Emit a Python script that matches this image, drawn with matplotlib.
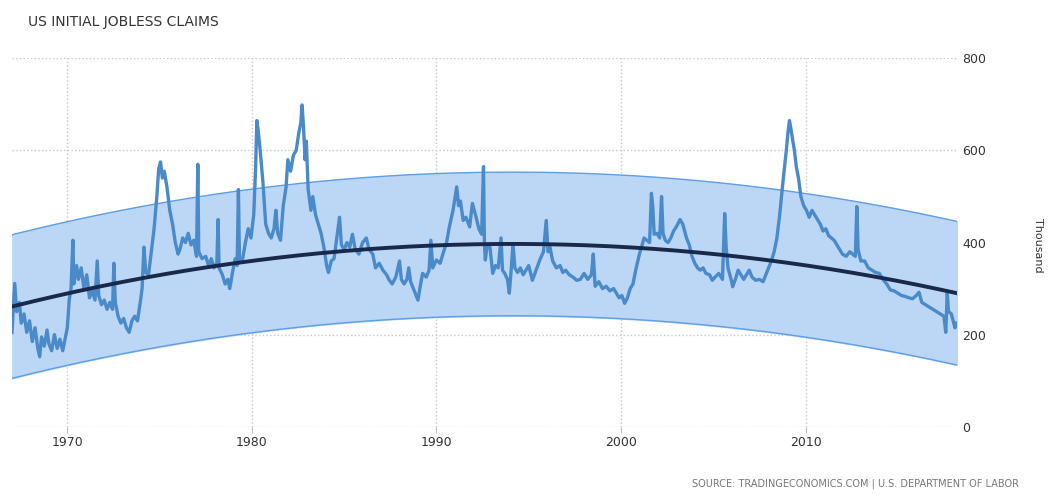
import numpy as np
import matplotlib
matplotlib.use("Agg")
import matplotlib.pyplot as plt

# weekly initial claims (thousand)
years = [
    1967.00, 1967.08, 1967.15, 1967.25, 1967.40, 1967.50, 1967.65, 1967.80, 1967.95,
    1968.10, 1968.25, 1968.40, 1968.50, 1968.60, 1968.75, 1968.90, 1969.00, 1969.15,
    1969.30, 1969.45, 1969.60, 1969.75, 1969.90, 1970.00, 1970.10, 1970.20, 1970.30,
    1970.35, 1970.50, 1970.60, 1970.75, 1970.90, 1971.05, 1971.20, 1971.35, 1971.50,
    1971.62, 1971.70, 1971.85, 1972.00, 1972.15, 1972.30, 1972.45, 1972.52, 1972.60,
    1972.75, 1972.90, 1973.05, 1973.20, 1973.35, 1973.50, 1973.65, 1973.80, 1973.95,
    1974.05, 1974.15, 1974.25, 1974.40, 1974.55, 1974.70, 1974.85, 1974.95, 1975.05,
    1975.15, 1975.25, 1975.40, 1975.55, 1975.70, 1975.85, 1976.00, 1976.10, 1976.25,
    1976.40, 1976.55, 1976.70, 1976.85, 1977.00, 1977.07, 1977.12, 1977.30, 1977.50,
    1977.65, 1977.80, 1977.95, 1978.10, 1978.17, 1978.22, 1978.40, 1978.55, 1978.70,
    1978.80, 1978.95, 1979.10, 1979.20, 1979.27, 1979.33, 1979.50, 1979.65, 1979.80,
    1979.95, 1980.10, 1980.20, 1980.27, 1980.35, 1980.45, 1980.60, 1980.75, 1980.90,
    1981.05, 1981.20, 1981.30, 1981.40, 1981.55, 1981.70, 1981.85, 1981.95, 1982.10,
    1982.25, 1982.40, 1982.55, 1982.65, 1982.72, 1982.80, 1982.88, 1982.95, 1983.05,
    1983.20, 1983.30, 1983.45, 1983.60, 1983.75, 1983.90, 1984.05, 1984.15, 1984.30,
    1984.45, 1984.60, 1984.75, 1984.85, 1985.00, 1985.15, 1985.30, 1985.45, 1985.60,
    1985.80, 1986.00, 1986.20, 1986.35, 1986.55, 1986.70, 1986.90, 1987.10, 1987.30,
    1987.45, 1987.60, 1987.80, 1988.00, 1988.10, 1988.25, 1988.40, 1988.50, 1988.60,
    1988.80, 1989.00, 1989.10, 1989.25, 1989.45, 1989.60, 1989.70, 1989.80, 1990.00,
    1990.20, 1990.35, 1990.55, 1990.70, 1990.90, 1991.10, 1991.20, 1991.30, 1991.45,
    1991.60, 1991.80, 1991.95, 1992.05, 1992.15, 1992.30, 1992.45, 1992.55, 1992.60,
    1992.65, 1992.75, 1992.90, 1993.05, 1993.20, 1993.35, 1993.50, 1993.58, 1993.70,
    1993.85, 1993.95, 1994.05, 1994.15, 1994.25, 1994.40, 1994.55, 1994.70, 1994.85,
    1995.00, 1995.20, 1995.40, 1995.60, 1995.80, 1995.95, 1996.05, 1996.15, 1996.30,
    1996.50, 1996.70, 1996.85, 1997.00, 1997.20, 1997.40, 1997.60, 1997.80, 1998.00,
    1998.20, 1998.40, 1998.50, 1998.60, 1998.80, 1999.00, 1999.20, 1999.40, 1999.60,
    1999.75, 1999.90, 2000.05, 2000.20, 2000.35, 2000.50, 2000.65, 2000.80, 2001.00,
    2001.15, 2001.25, 2001.40, 2001.55, 2001.65, 2001.72, 2001.80, 2001.95, 2002.10,
    2002.20, 2002.28, 2002.40, 2002.55, 2002.70, 2002.85, 2003.00, 2003.20, 2003.35,
    2003.55, 2003.70, 2003.85, 2004.00, 2004.15, 2004.30, 2004.45, 2004.60, 2004.80,
    2004.95, 2005.10, 2005.30, 2005.50, 2005.62, 2005.70, 2005.80, 2006.00, 2006.05,
    2006.20, 2006.35, 2006.50, 2006.65, 2006.80, 2006.95, 2007.10, 2007.30, 2007.50,
    2007.70, 2007.85, 2008.00, 2008.15, 2008.30, 2008.45, 2008.60, 2008.75, 2008.88,
    2008.98, 2009.05, 2009.13, 2009.22, 2009.30, 2009.40, 2009.50, 2009.62, 2009.75,
    2009.90, 2010.05, 2010.20, 2010.35, 2010.50, 2010.65, 2010.80, 2010.95, 2011.10,
    2011.25, 2011.40, 2011.55, 2011.70, 2011.85, 2012.00, 2012.20, 2012.40, 2012.55,
    2012.70, 2012.78, 2012.85, 2013.00, 2013.20, 2013.40, 2013.60, 2013.80, 2014.00,
    2014.20, 2014.40, 2014.60, 2014.80, 2015.00, 2015.20, 2015.40, 2015.60, 2015.80,
    2016.00, 2016.15, 2016.30, 2016.50, 2016.70, 2016.90, 2017.10, 2017.30, 2017.50,
    2017.60, 2017.68, 2017.75, 2017.90, 2018.00, 2018.10, 2018.16,
]
claims = [
    205, 260, 311, 250, 270, 225, 245, 205, 230,
    185, 215, 170, 152, 195, 175, 210, 180, 165,
    200, 170, 190, 165, 195, 215, 275, 300, 405,
    310, 350, 320, 345, 300, 330, 280, 295, 275,
    360, 285, 265, 275, 255, 270, 255, 355, 270,
    240, 225, 235, 215, 205, 230, 240, 230, 270,
    300, 390, 335, 330, 380, 430, 500, 560, 575,
    540, 555, 520, 470, 440, 400, 375, 385, 410,
    400, 420, 395, 405, 370, 570, 380, 365, 370,
    350, 365, 345, 355, 450, 345, 330, 310, 320,
    300, 335, 365, 350, 515, 360, 365, 400, 430,
    410, 460, 560, 665, 640, 600, 530, 440, 420,
    410, 430, 470, 420, 405, 480, 520, 580, 555,
    590, 600, 640, 660, 699, 650, 580, 620, 515,
    470, 500, 460, 440, 420, 390, 350, 335, 360,
    365, 410, 455, 395, 385, 400, 390, 418, 385,
    375, 400, 410, 385, 375, 345, 355, 340, 330,
    318, 310, 325, 360, 320, 310, 320, 345, 315,
    295, 275, 300, 333, 325, 340, 405, 345, 362,
    355, 375, 400, 434, 470, 521, 480, 490, 448,
    455, 434, 485, 470, 455, 430, 418, 565, 400,
    362, 395, 390, 333, 350, 345, 410, 340, 333,
    320, 290, 340, 398, 345, 335, 345, 330, 340,
    350, 318, 340, 362, 380, 448, 380, 390, 360,
    345, 350, 335, 340, 330, 325, 318, 320, 333,
    320, 330, 375, 305, 315, 300, 305, 295, 300,
    290, 280, 285, 268, 280, 300, 310, 340, 375,
    395, 410, 405, 400, 507, 480, 418, 420, 410,
    500, 420, 405, 400, 410, 425, 434, 450, 440,
    410, 395, 370, 355, 345, 340, 345, 333, 330,
    318, 325, 333, 320, 463, 390, 345, 315, 304,
    320, 340, 330, 320, 330, 340, 325, 318, 320,
    315, 330, 345, 360, 380, 410, 460, 521, 570,
    608, 640, 665, 645, 623, 600, 565, 540, 500,
    480, 470, 455, 470, 460, 450, 440, 425, 430,
    415, 410, 405, 395, 385, 375, 370, 380, 375,
    370, 478, 385, 360, 360, 345, 340, 335, 333,
    320, 310, 297, 295, 290, 285, 283, 280, 278,
    285, 292, 270, 265, 260, 255, 250, 245, 240,
    205, 290, 250, 245, 230, 215, 225,
]

# quadratic trend read at three places, and half width of the band
trend_years = [1967.0, 1994.0, 2018.2]
trend_vals = [261, 397, 290]
band_half = 156

x_ticks = [1970, 1980, 1990, 2000, 2010]
y_ticks = [0, 200, 400, 600, 800]

fig = plt.figure(figsize=(10.51, 4.95), dpi=100)
ax = fig.add_axes([0.0114, 0.138, 0.899, 0.744])

coef = np.polyfit(trend_years, trend_vals, 2)
tx = np.linspace(1967.0, 2018.2, 300)
ty = np.polyval(coef, tx)

ax.fill_between(tx, ty - band_half, ty + band_half, color="#bcd6f6", zorder=1)
ax.plot(tx, ty + band_half, color="#5e9ee6", lw=1, zorder=2)
ax.plot(tx, ty - band_half, color="#5e9ee6", lw=1, zorder=2)
ax.plot(years, claims, color="#4a8ac9", lw=2.4, zorder=3)
ax.plot(tx, ty, color="#18294a", lw=2.8, zorder=4)

ax.set_xlim(1967.0, 2018.2)
ax.set_ylim(0, 800)
ax.set_xticks(x_ticks)
ax.set_yticks(y_ticks)
ax.yaxis.tick_right()
ax.grid(True, color="#c8c8c8", ls=":", lw=1)
ax.set_axisbelow(True)
for s in ax.spines.values():
    s.set_visible(False)
ax.tick_params(axis="x", length=4, color="#bbbbbb", labelsize=9, labelcolor="#333333", pad=3)
ax.tick_params(axis="y", length=0, labelsize=9, labelcolor="#333333", pad=4)

fig.text(0.988, 0.505, "Thousand", rotation=270, fontsize=8, color="#333333",
         ha="center", va="center")
fig.text(0.027, 0.955, "US INITIAL JOBLESS CLAIMS", fontsize=10, color="#333333",
         ha="left", va="center")
fig.text(0.97, 0.012, "SOURCE: TRADINGECONOMICS.COM | U.S. DEPARTMENT OF LABOR",
         fontsize=7, color="#777777", ha="right", va="bottom")

fig.savefig("out.png", dpi=100)
